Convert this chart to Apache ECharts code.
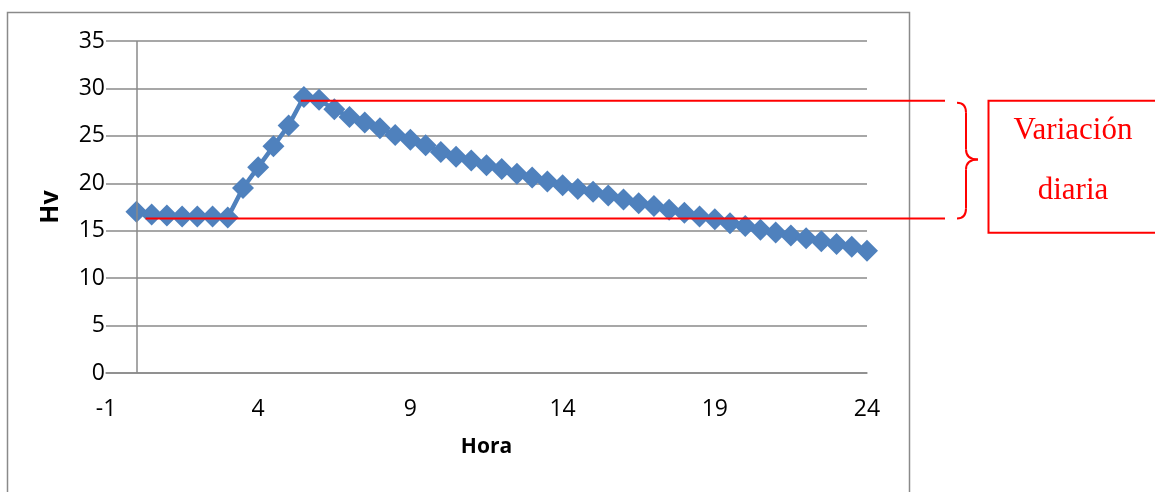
<!DOCTYPE html>
<html>
<head>
<meta charset="utf-8">
<script src="https://cdn.jsdelivr.net/npm/echarts@6/dist/echarts.min.js"></script>
<style>
  html, body { margin: 0; padding: 0; background: #ffffff; }
  #chart { width: 1155px; height: 492px; }
</style>
</head>
<body>
<div id="chart"></div>
<script>
// Hour of day (x) and Hv reading (y), one point every half hour
const hours = [
  0, 0.5, 1, 1.5, 2, 2.5, 3, 3.5, 4, 4.5, 5, 5.5, 6, 6.5, 7, 7.5, 8,
  8.5, 9, 9.5, 10, 10.5, 11, 11.5, 12, 12.5, 13, 13.5, 14, 14.5, 15, 15.5, 16,
  16.5, 17, 17.5, 18, 18.5, 19, 19.5, 20, 20.5, 21, 21.5, 22, 22.5, 23, 23.5, 24
];
const hv = [
  17.0, 16.7, 16.6, 16.5, 16.5, 16.5, 16.4, 19.5, 21.7, 23.9, 26.1, 29.1, 28.8,
  27.8, 27.0, 26.4, 25.8, 25.1, 24.6, 24.0, 23.3, 22.8, 22.4, 21.9, 21.5, 21.0,
  20.6, 20.2, 19.8, 19.4, 19.1, 18.7, 18.3, 17.9, 17.6, 17.2, 16.9, 16.5, 16.2,
  15.8, 15.5, 15.1, 14.8, 14.5, 14.2, 13.9, 13.6, 13.3, 12.9
];

// Axis tick labels
const xTickLabels = [-1, 4, 9, 14, 19, 24];
const yTickLabels = [0, 5, 10, 15, 20, 25, 30, 35];

// Daily range annotation (data units)
const dailyMax = 28.7;
const dailyMin = 16.3;
const topLineFromHour = 5.4;
const bottomLineFromHour = 0.3;
const noteLines = ['Variación', 'diaria'];

const points = hours.map((h, i) => [h, hv[i]]);

const axisGray = '#8a8a8a';
const labelFont = '"Open Sans", "Liberation Sans", sans-serif';

const chart = echarts.init(document.getElementById('chart'), null, { renderer: 'canvas' });

chart.setOption({
  animation: false,
  backgroundColor: '#ffffff',
  grid: { left: 106, right: 288, top: 41, bottom: 119, containLabel: false },
  xAxis: {
    type: 'value',
    min: xTickLabels[0],
    max: xTickLabels[xTickLabels.length - 1],
    name: 'Hora',
    nameLocation: 'middle',
    nameGap: 64,
    nameTextStyle: { fontFamily: labelFont, fontSize: 21, fontWeight: 'bold', color: '#000' },
    axisLine: { show: true, lineStyle: { color: axisGray, width: 1.5 } },
    axisTick: { show: false },
    splitLine: { show: false },
    axisLabel: {
      customValues: xTickLabels,
      margin: 25,
      fontFamily: labelFont,
      fontSize: 23,
      color: '#000'
    }
  },
  yAxis: {
    type: 'value',
    min: yTickLabels[0],
    max: yTickLabels[yTickLabels.length - 1],
    interval: 5,
    name: 'Hv',
    nameLocation: 'middle',
    nameGap: 43,
    nameRotate: 90,
    nameTextStyle: { fontFamily: labelFont, fontSize: 25, fontWeight: 'bold', color: '#000' },
    axisLine: { show: false },
    axisTick: { show: false },
    splitLine: { show: true, lineStyle: { color: axisGray, width: 1.5 } },
    axisLabel: {
      margin: 1,
      fontFamily: labelFont,
      fontSize: 23,
      color: '#000'
    }
  },
  series: [{
    type: 'line',
    data: points,
    symbol: 'diamond',
    symbolSize: 22,
    showAllSymbol: true,
    lineStyle: { color: '#4f81bd', width: 4.5 },
    itemStyle: { color: '#4f81bd' },
    z: 3,
    markLine: {
      silent: true,
      symbol: 'none',
      label: { show: false },
      lineStyle: { color: axisGray, width: 1.5, type: 'solid' },
      data: [{ xAxis: 0 }]
    }
  }]
});

// Bracket and note showing the daily range, hooked to the data scale
const yTop = chart.convertToPixel({ gridIndex: 0 }, [0, dailyMax])[1];
const yBot = chart.convertToPixel({ gridIndex: 0 }, [0, dailyMin])[1];
const xTopStart = chart.convertToPixel({ gridIndex: 0 }, [topLineFromHour, 0])[0];
const xBotStart = chart.convertToPixel({ gridIndex: 0 }, [bottomLineFromHour, 0])[0];
const lineEnd = 945;
const yMid = (yTop + yBot) / 2;
const bx0 = 957, bx1 = 966, bx2 = 978, r = 10;
const red = '#ff0000';
const redStroke = { fill: 'none', stroke: red, lineWidth: 2 };

function curve(x1, y1, cx, cy, x2, y2) {
  return {
    type: 'bezierCurve', z: 100, silent: true,
    shape: { x1: x1, y1: y1, cpx1: cx, cpy1: cy, x2: x2, y2: y2 },
    style: redStroke
  };
}
function seg(x1, y1, x2, y2) {
  return {
    type: 'line', z: 100, silent: true,
    shape: { x1: x1, y1: y1, x2: x2, y2: y2 },
    style: { stroke: red, lineWidth: 2 }
  };
}

const braceTop = yTop + 2;
const brace = [
  curve(bx0, braceTop, bx1, braceTop, bx1, braceTop + r),
  seg(bx1, braceTop + r, bx1, yMid - r),
  curve(bx1, yMid - r, bx1, yMid, bx2, yMid),
  curve(bx2, yMid, bx1, yMid, bx1, yMid + r),
  seg(bx1, yMid + r, bx1, yBot - r),
  curve(bx1, yBot - r, bx1, yBot, bx0, yBot)
];

const noteFont = '31px "Liberation Serif", "DejaVu Serif", serif';

chart.setOption({
  graphic: [
    {
      type: 'rect', z: 100, silent: true,
      shape: { x: 7.5, y: 12.5, width: 902, height: 500 },
      style: { fill: 'none', stroke: '#8a8a8a', lineWidth: 1.5 }
    },
    seg(xTopStart, yTop, lineEnd, yTop),
    seg(xBotStart, yBot, lineEnd, yBot),
    ...brace,
    {
      type: 'rect', z: 100, silent: true,
      shape: { x: 988.5, y: yTop, width: 220, height: 132 },
      style: redStroke
    },
    {
      type: 'text', z: 100, silent: true,
      style: {
        text: noteLines[0], x: 1073, y: 131,
        font: noteFont, fill: red, align: 'center', verticalAlign: 'middle'
      }
    },
    {
      type: 'text', z: 100, silent: true,
      style: {
        text: noteLines[1], x: 1073, y: 191,
        font: noteFont, fill: red, align: 'center', verticalAlign: 'middle'
      }
    }
  ]
});
</script>
</body>
</html>
